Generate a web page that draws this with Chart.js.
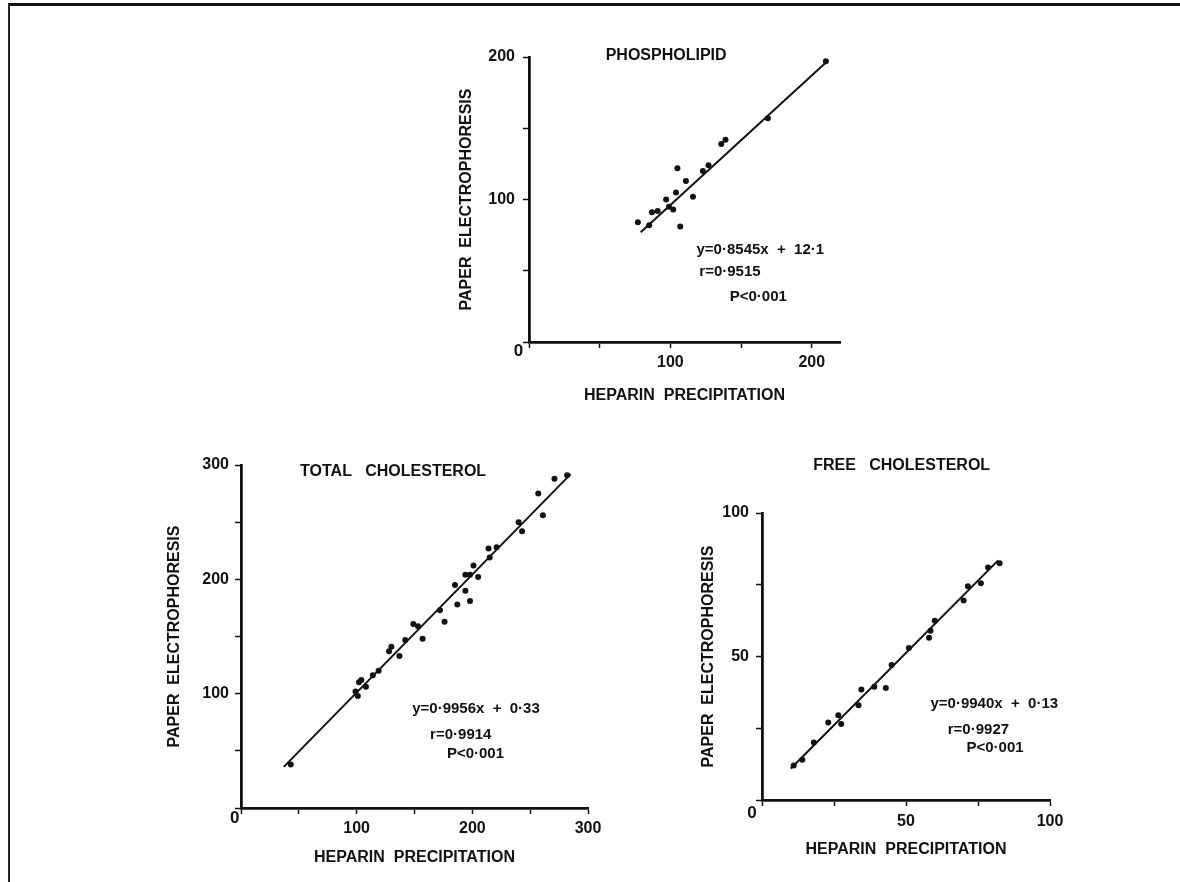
<!DOCTYPE html>
<html>
<head>
<meta charset="utf-8">
<script src="https://cdn.jsdelivr.net/npm/chart.js@4.4.0/dist/chart.umd.min.js"></script>
<style>
  body { margin: 0; background: #fff; width: 1180px; height: 882px; position: relative; overflow: hidden; }
  .frame { position: absolute; left: 8px; top: 3px; width: 1200px; height: 900px; border-top: 3px solid #111; border-left: 2px solid #222; }
  canvas { position: absolute; }
</style>
</head>
<body>
<div class="frame"></div>
<canvas id="phos" width="450" height="395" style="left:420px;top:20px"></canvas>
<canvas id="total" width="470" height="432" style="left:150px;top:440px"></canvas>
<canvas id="free" width="420" height="415" style="left:680px;top:450px"></canvas>
<script>
// phospholipid: heparin precipitation (x) vs paper electrophoresis (y)
const phosX = [77, 85, 87, 91, 97, 99, 102, 104, 105, 107, 111, 116, 123, 127, 136, 139, 169, 210];
const phosY = [84, 82, 91, 92, 100, 95, 93, 105, 122, 81, 113, 102, 120, 124, 139, 142, 157, 197];
const phosLineX = [79, 211];
const phosLineY = [77, 197];

// total cholesterol
const totalX = [43, 99, 101, 102, 104, 108, 114, 119, 128, 130, 137, 142, 149, 153, 157, 172, 176, 185, 187,
  194, 194, 198, 198, 201, 205, 214, 215, 221, 240, 243, 257, 261, 271, 282];
const totalY = [38, 102, 98, 110, 112, 106, 116, 120, 137, 141, 133, 147, 161, 159, 148, 173, 163, 195, 178,
  190, 204, 181, 204, 212, 202, 227, 219, 228, 250, 242, 275, 256, 288, 291];
const totalLineX = [37, 285];
const totalLineY = [36, 292];

// free cholesterol
const freeX = [11, 14, 18, 23, 26.5, 27.5, 33.5, 34.5, 39, 43, 45, 51, 58, 58.5, 60, 70, 71.5, 76, 78.5, 82.5];
const freeY = [12, 14, 20, 27, 29.5, 26.5, 33, 38.5, 39.5, 39, 47, 53, 56.5, 59, 62.5, 69.5, 74.5, 75.5, 81, 82.5];
const freeLineX = [10, 82];
const freeLineY = [11, 83.5];

const FONT = '"Liberation Sans", Arial, sans-serif';
const INK = '#111';

const notesPlugin = {
  id: 'notes',
  afterDraw(chart, args, opts) {
    const { ctx, scales: { x, y } } = chart;
    ctx.save();
    ctx.fillStyle = INK;
    ctx.textBaseline = 'middle';
    opts.items.forEach(n => {
      ctx.font = 'bold ' + (n.size || 15) + 'px ' + FONT;
      ctx.textAlign = n.align || 'left';
      ctx.fillText(n.text, x.getPixelForValue(n.x), y.getPixelForValue(n.y));
    });
    ctx.restore();
  }
};

function pts(xs, ys) {
  return xs.map((v, i) => ({ x: v, y: ys[i] }));
}

function axis(max, step, every, pad, extra) {
  return Object.assign({
    type: 'linear',
    min: 0,
    max: max,
    grid: { drawOnChartArea: false, drawTicks: true, tickLength: 6, tickColor: INK, tickWidth: 1.5 },
    border: { display: true, color: INK, width: 2.8 },
    ticks: {
      stepSize: step,
      includeBounds: false,
      autoSkip: false,
      maxRotation: 0,
      padding: pad,
      color: INK,
      font: { family: FONT, size: 16, weight: 'bold' },
      callback: v => (v !== 0 && v % every === 0) ? v : ''
    }
  }, extra);
}

function makeChart(id, c) {
  new Chart(document.getElementById(id), {
    type: 'scatter',
    data: {
      datasets: [
        { data: pts(c.xs, c.ys), pointRadius: 3, pointBackgroundColor: INK, pointBorderWidth: 0 },
        { data: pts(c.lineX, c.lineY), showLine: true, pointRadius: 0, borderColor: INK, borderWidth: 2 }
      ]
    },
    options: {
      responsive: false,
      animation: false,
      layout: { padding: c.padding },
      plugins: { legend: { display: false }, tooltip: { enabled: false }, notes: { items: c.notes } },
      scales: {
        x: axis(c.xMax, c.step, c.every, c.xTickPad, {
          title: { display: true, text: 'HEPARIN  PRECIPITATION', color: INK,
            font: { family: FONT, size: 16, weight: 'bold' }, padding: { top: 0, bottom: c.xTitlePad } },
          afterFit: s => { s.height = c.xHeight; }
        }),
        y: axis(c.yMax, c.step, c.every, c.yTickPad, {
          title: { display: true, text: 'PAPER  ELECTROPHORESIS', color: INK,
            font: { family: FONT, size: 16, weight: 'bold' }, padding: { top: c.yTitlePad, bottom: 0 } },
          afterFit: s => { s.width = c.yWidth; }
        })
      }
    },
    plugins: [notesPlugin]
  });
}

makeChart('phos', {
  xs: phosX, ys: phosY, lineX: phosLineX, lineY: phosLineY,
  xMax: 220, yMax: 200, step: 50, every: 100,
  yWidth: 109, xHeight: 73, padding: { left: 0, top: 37, right: 30, bottom: 0 },
  yTitlePad: 37, xTitlePad: 10, yTickPad: 8, xTickPad: 5,
  notes: [
    { text: 'PHOSPHOLIPID', x: 97, y: 201, align: 'center', size: 16 },
    { text: 'y=0·8545x  +  12·1', x: 118.5, y: 65 },
    { text: 'r=0·9515', x: 120.5, y: 49 },
    { text: 'P<0·001', x: 142, y: 31.5 },
    { text: '0', x: -7.5, y: -6.5, align: 'center', size: 17 }
  ]
});

makeChart('total', {
  xs: totalX, ys: totalY, lineX: totalLineX, lineY: totalLineY,
  xMax: 300, yMax: 300, step: 50, every: 100,
  yWidth: 91, xHeight: 64, padding: { left: 0, top: 25, right: 32, bottom: 0 },
  yTitlePad: 15, xTitlePad: 5, yTickPad: 6, xTickPad: 5,
  notes: [
    { text: 'TOTAL   CHOLESTEROL', x: 131.5, y: 294, align: 'center', size: 16 },
    { text: 'y=0·9956x  +  0·33', x: 148, y: 86.5 },
    { text: 'r=0·9914', x: 163.5, y: 64 },
    { text: 'P<0·001', x: 178, y: 47 },
    { text: '0', x: -5.5, y: -9, align: 'center', size: 17 }
  ]
});

makeChart('free', {
  xs: freeX, ys: freeY, lineX: freeLineX, lineY: freeLineY,
  xMax: 100, yMax: 100, step: 25, every: 50,
  yWidth: 82, xHeight: 65, padding: { left: 0, top: 63, right: 50, bottom: 0 },
  yTitlePad: 19, xTitlePad: 6, yTickPad: 7, xTickPad: 6,
  notes: [
    { text: 'FREE   CHOLESTEROL', x: 48.5, y: 116.5, align: 'center', size: 16 },
    { text: 'y=0·9940x  +  0·13', x: 58.5, y: 33.5 },
    { text: 'r=0·9927', x: 64.5, y: 24.5 },
    { text: 'P<0·001', x: 71, y: 18 },
    { text: '0', x: -3.5, y: -4.5, align: 'center', size: 17 }
  ]
});
</script>
</body>
</html>
